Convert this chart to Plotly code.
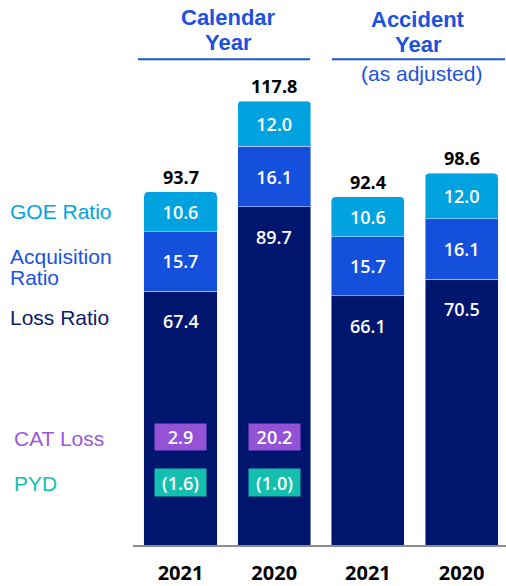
import plotly.graph_objects as go

# data
years = ["2021", "2020", "2021", "2020"]
loss_ratio = [67.4, 89.7, 66.1, 70.5]
acq_ratio = [15.7, 16.1, 15.7, 16.1]
goe_ratio = [10.6, 12.0, 10.6, 12.0]
combined = [93.7, 117.8, 92.4, 98.6]
cat_loss = [2.9, 20.2]      # calendar year bars only
pyd = [-1.6, -1.0]          # calendar year bars only

#colours
GOE = "#00A3E0"
ACQ = "#1550DD"
LOSS = "#00156E"
CAT = "#9452D6"
PYDC = "#14BFAE"
HEAD = "#1B52E0"

W, H = 506, 586
ML, MB = 133, 35
PW, PH = W - ML, H - MB
XR = [-0.507, 3.474]
YR = [0, PH / 3.81]

def px_x(px):
    return (px - ML) / PW

def px_y(py):
    return (PH - py) / PH

def fmt(v):
    return "(%.1f)" % abs(v) if v < 0 else "%.1f" % v

xs = list(range(len(years)))
num_font = dict(family="Open Sans", size=18, color="white", weight=600)
ARIAL = "Liberation Sans, Arial, sans-serif"

fig = go.Figure()
fig.add_trace(go.Bar(x=xs, y=loss_ratio, marker_color=LOSS, width=0.78, name="Loss Ratio"))
fig.add_trace(go.Bar(x=xs, y=acq_ratio, marker_color=ACQ, width=0.78, name="Acquisition Ratio",
                     text=[fmt(v) for v in acq_ratio], textposition="inside",
                     insidetextanchor="middle", textangle=0, textfont=num_font, constraintext="none"))
fig.add_trace(go.Bar(x=xs, y=goe_ratio, marker_color=GOE, width=0.78, name="GOE Ratio",
                     text=[fmt(v) for v in goe_ratio], textposition="inside",
                     insidetextanchor="middle", textangle=0, textfont=num_font, constraintext="none"))

ann = []
# loss ratio labels near top of the loss segment
for x, v in zip(xs, loss_ratio):
    ann.append(dict(x=x, y=v, text=fmt(v), showarrow=False, yshift=-30, font=num_font))
# totals
for x, v in zip(xs, combined):
    ann.append(dict(x=x, y=v, text="<b>%.1f</b>" % v, showarrow=False, yshift=15,
                    font=dict(family="Open Sans", size=18, color="black")))
# cat loss / pyd boxes
for x, v in zip(xs, cat_loss):
    ann.append(dict(x=x, y=px_y(442), yref="paper", text=fmt(v), showarrow=False, bgcolor=CAT,
                    width=51, height=26, borderpad=0, font=num_font, xanchor="center", yanchor="middle"))
for x, v in zip(xs, pyd):
    ann.append(dict(x=x, y=px_y(488), yref="paper", text=fmt(v), showarrow=False, bgcolor=PYDC,
                    width=51, height=27, borderpad=0, font=num_font, xanchor="center", yanchor="middle"))

# left labels
left = [("GOE Ratio", 214, GOE, 8), ("Acquisition", 259, HEAD, 8), ("Ratio", 281, HEAD, 8),
        ("Loss Ratio", 321, "#0D1A6B", 8), ("CAT Loss", 443, "#9B59D9", 12), ("PYD", 489, PYDC, 12)]
for t, py, c, px in left:
    ann.append(dict(x=px_x(px), y=px_y(py), xref="paper", yref="paper", text=t, showarrow=False,
                    xanchor="left", yanchor="middle", align="left",
                    font=dict(family=ARIAL, size=21, color=c)))

# headers
hfont = dict(family=ARIAL, size=22, color=HEAD)
heads = [("<b>Calendar</b>", 228, 18, hfont), ("<b>Year</b>", 228, 43, hfont),
         ("<b>Accident</b>", 418, 20, hfont), ("<b>Year</b>", 418, 45, hfont),
         ("(as adjusted)", 421, 74, dict(family=ARIAL, size=21, color=HEAD))]
for t, px, py, f in heads:
    ann.append(dict(x=px_x(px), y=px_y(py), xref="paper", yref="paper", text=t, showarrow=False,
                    font=f, xanchor="center", yanchor="middle"))

shapes = [
    dict(type="line", xref="paper", yref="paper", x0=px_x(138), x1=px_x(310), y0=px_y(60), y1=px_y(60),
         line=dict(color=HEAD, width=2)),
    dict(type="line", xref="paper", yref="paper", x0=px_x(332), x1=px_x(505), y0=px_y(60), y1=px_y(60),
         line=dict(color=HEAD, width=2)),
]

fig.update_layout(
    width=W, height=H,
    margin=dict(l=ML, r=0, t=0, b=MB),
    barmode="stack", barcornerradius=4,
    showlegend=False,
    plot_bgcolor="white", paper_bgcolor="white",
    annotations=ann, shapes=shapes,
    xaxis=dict(range=XR, tickvals=xs, ticktext=years, showgrid=False, zeroline=False,
               showline=True, linecolor="#8C8C8C", linewidth=2,
               ticks="outside", ticklen=9, tickcolor="rgba(0,0,0,0)",
               tickfont=dict(family="Open Sans", size=20, color="black", weight=700)),
    yaxis=dict(range=YR, visible=False),
)

fig.write_html("out.html", config={"displayModeBar": False},
               post_script="document.body.style.margin='0';")
